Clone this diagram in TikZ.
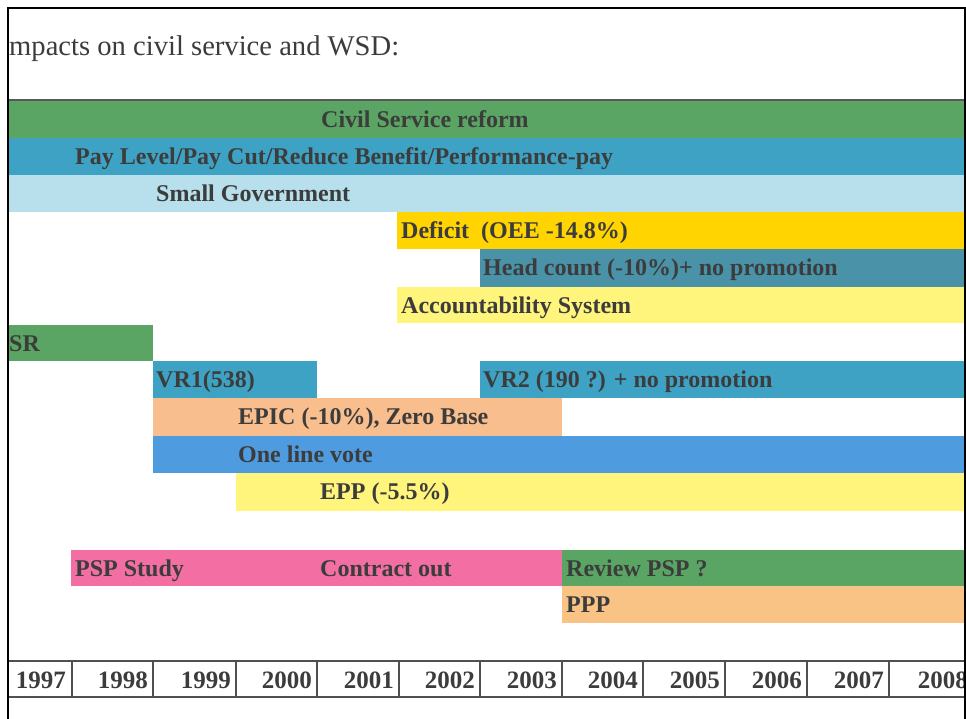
\documentclass[tikz,border=0pt]{standalone}
\usepackage{fontspec}
\setmainfont{Liberation Serif}
\definecolor{txt}{HTML}{3C3C3C}
\definecolor{csgreen}{HTML}{5AA563}
\definecolor{payteal}{HTML}{3EA2C4}
\definecolor{smallblue}{HTML}{B8E0EC}
\definecolor{gold}{HTML}{FFD400}
\definecolor{headteal}{HTML}{4A92A8}
\definecolor{lyellow}{HTML}{FFF57C}
\definecolor{peach}{HTML}{F9BE8E}
\definecolor{voteblue}{HTML}{4F9BE0}
\definecolor{pink}{HTML}{F36EA3}
\definecolor{ppp}{HTML}{F9C385}
\definecolor{gridc}{HTML}{505050}
\newcommand\tbar[8]{%
  \node[bar, fill=#6, minimum width={(#4-#2)*1pt}, minimum height={(#5-#3)*1pt}] (#1) at (#2,#3) {};%
  \node[lbl] (#1t) at (#7,{(#3+#5)/2+8}) {#8};}
\newcommand\yr[3]{%
  \node[yrlbl] (#1) at (#2,688) {#3};}
\begin{document}
\begin{tikzpicture}[x=1pt,y=-1pt,
  bar/.style={draw=none, inner sep=0pt, outer sep=0pt, anchor=north west},
  lbl/.style={anchor=base west, font=\bfseries\fontsize{24}{24}\selectfont, text=txt, inner sep=0pt},
  yrlbl/.style={anchor=base east, font=\bfseries\fontsize{25}{25}\selectfont, text=txt, inner sep=0pt},
  grid/.style={draw=gridc, line width=1.6pt},
  frame/.style={draw=black, line width=2.4pt}]
\useasboundingbox (0,0) rectangle (966,719);
\fill[white] (0,0) rectangle (966,719);
\begin{scope}
\clip (8,8) rectangle (965,719);
\node[anchor=base west, inner sep=0pt, text=txt, font=\fontsize{28.6}{28.6}\selectfont] (title) at (9,56) {mpacts on civil service and WSD:};
\draw[draw=gray!70!black, line width=2.6pt] (8,100) -- (965,100);
\tbar{cs}{8}{101.5}{966}{138}{csgreen}{321}{Civil Service reform}
\tbar{pay}{8}{138}{966}{175}{payteal}{75}{Pay Level/Pay Cut/Reduce Benefit/Performance-pay}
\tbar{small}{8}{175}{966}{212}{smallblue}{156}{Small Government}
\tbar{def}{397}{212}{966}{249}{gold}{401}{Deficit\ \ (OEE -14.8\%)}
\tbar{head}{480}{249}{966}{287}{headteal}{483}{Head count (-10\%)+ no promotion}
\tbar{acc}{397}{287}{966}{323}{lyellow}{401}{Accountability System}
\tbar{sr}{8}{325}{153}{361}{csgreen}{9}{SR}
\tbar{vr1}{153}{361}{317}{398}{payteal}{156}{VR1(538)}
\tbar{vr2}{480}{361}{966}{398}{payteal}{483}{VR2 (190 ?) + no promotion}
\tbar{epic}{153}{398}{562}{435.5}{peach}{238}{EPIC (-10\%), Zero Base}
\tbar{vote}{153}{435.5}{966}{472.5}{voteblue}{238}{One line vote}
\tbar{epp}{236}{472.5}{966}{510.5}{lyellow}{320}{EPP (-5.5\%)}
\tbar{psp}{71}{550}{562}{586}{pink}{75}{PSP Study}
\node[lbl] (contract) at (320,576) {Contract out};
\tbar{rev}{562}{550}{966}{586}{csgreen}{566}{Review PSP ?}
\tbar{pppb}{562}{586}{966}{623}{ppp}{566}{PPP}
% year row
\draw[grid] (8,661) -- (965,661);
\draw[grid] (8,697) -- (965,697);
\foreach \xx in {72,153,236,317,399,480,562,643,725,807,889}{
  \draw[grid] (\xx,661) -- (\xx,697);
}
\yr{y97}{66}{1997}
\yr{y98}{148}{1998}
\yr{y99}{231}{1999}
\yr{y00}{312}{2000}
\yr{y01}{394}{2001}
\yr{y02}{475}{2002}
\yr{y03}{557}{2003}
\yr{y04}{638}{2004}
\yr{y05}{720}{2005}
\yr{y06}{802}{2006}
\yr{y07}{884}{2007}
\yr{y08}{968}{2008}
\end{scope}
\draw[frame] (8,719) -- (8,8) -- (965,8) -- (965,719);
\end{tikzpicture}
\end{document}
